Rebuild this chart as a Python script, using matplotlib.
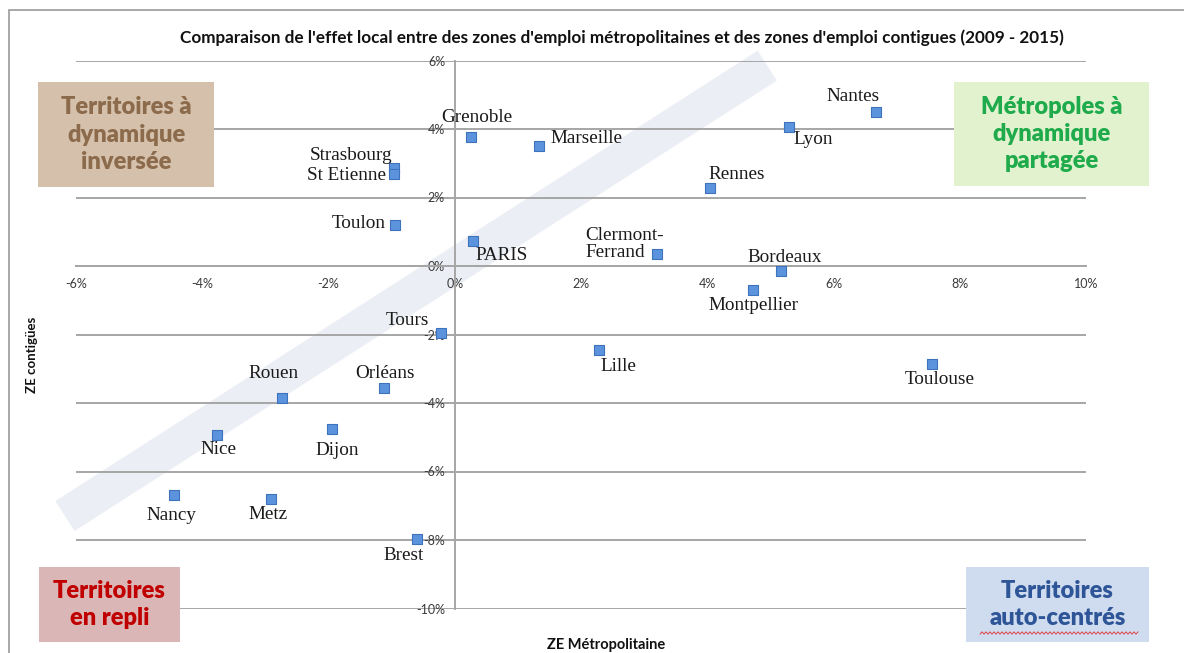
import numpy as np
import matplotlib.pyplot as plt
from matplotlib.patches import Rectangle
from matplotlib.ticker import FuncFormatter

# DATA (croissance de l'effet local, en %)
cities = ["Nantes", "Lyon", "Grenoble", "Marseille", "Strasbourg", "St Etienne",
          "Rennes", "Toulon", "PARIS", "Clermont-\nFerrand", "Bordeaux", "Montpellier",
          "Tours", "Lille", "Toulouse", "Orléans", "Rouen", "Dijon", "Nice",
          "Nancy", "Metz", "Brest"]
ze_metro = [6.68, 5.30, 0.26, 1.34, -0.96, -0.96, 4.05, -0.94, 0.29, 3.21, 5.17, 4.73,
            -0.21, 2.29, 7.56, -1.12, -2.73, -1.94, -3.76, -4.44, -2.91, -0.60]
ze_contig = [4.50, 4.06, 3.77, 3.50, 2.86, 2.69, 2.28, 1.20, 0.73, 0.34, -0.15, -0.70,
             -1.96, -2.45, -2.86, -3.56, -3.85, -4.76, -4.93, -6.69, -6.80, -7.97]

x_ticks = list(range(-6, 11, 2))
y_ticks = list(range(-10, 7, 2))

TITLE = ("Comparaison de l'effet local entre des zones d'emploi métropolitaines "
         "et des zones d'emploi contigues (2009 - 2015)")

# label placement (pixels offset, alignment)
label_pos = {
    "Nantes": (-23, 15, "center"), "Lyon": (24, -13, "center"),
    "Grenoble": (6, 19, "center"), "Marseille": (11, 8, "left"),
    "Strasbourg": (-2, 13, "right"), "St Etienne": (-8, -2, "right"),
    "Rennes": (26, 13, "center"), "Toulon": (-10, 1, "right"),
    "PARIS": (2, -15, "left"), "Clermont-\nFerrand": (-72, 10, "left"),
    "Bordeaux": (4, 14, "center"), "Montpellier": (0, -16, "center"),
    "Tours": (-12, 13, "right"), "Lille": (1, -17, "left"),
    "Toulouse": (8, -16, "center"), "Orléans": (1, 14, "center"),
    "Rouen": (-9, 24, "center"), "Dijon": (5, -21, "center"),
    "Nice": (1, -15, "center"), "Nancy": (-3, -20, "center"),
    "Metz": (-3, -16, "center"), "Brest": (-13, -17, "center"),
}

# quadrant boxes: text, (left, top, right, bottom) in pixels, bg, fg
quadrants = [
    ("Territoires à\ndynamique\ninversée", (38, 82, 214, 187), "#d5c0ab", "#8b6b4b"),
    ("Métropoles à\ndynamique\npartagée", (954, 82, 1149, 186), "#e2f2cf", "#1faa4b"),
    ("Territoires\nen repli", (39, 567, 180, 642), "#dbb6b6", "#c00000"),
    ("Territoires\nauto-centrés", (966, 567, 1149, 642), "#cfdcef", "#2e5597"),
]

W, H = 1184, 653
fig = plt.figure(figsize=(W / 100, H / 100), dpi=100)

def fx(px):
    return px / W

def fy(py):
    return 1 - py / H

ax = fig.add_axes([fx(76), fy(608.5), fx(1010), 548 / H])
ax.set_xlim(-6, 10)
ax.set_ylim(-10, 6)
ax.set_xticks(x_ticks)
ax.set_yticks(y_ticks)
pct = FuncFormatter(lambda v, p: f"{v:.0f}%")
ax.xaxis.set_major_formatter(pct)
ax.yaxis.set_major_formatter(pct)

grid_col = "#a6a6a6"
ax.set_axisbelow(True)
ax.yaxis.grid(True, color=grid_col, lw=1.4)
for s in ["top", "right"]:
    ax.spines[s].set_visible(False)
ax.spines["left"].set_position(("data", 0))
ax.spines["bottom"].set_position(("data", 0))
ax.spines["left"].set_color(grid_col)
ax.spines["bottom"].set_color(grid_col)
ax.spines["left"].set_linewidth(1.4)
ax.spines["bottom"].set_linewidth(1.4)
ax.tick_params(length=0, labelsize=9, labelcolor="#3a3a3a")
ax.tick_params(axis="y", pad=7)
ax.tick_params(axis="x", pad=9)
for lab in ax.get_xticklabels() + ax.get_yticklabels():
    lab.set_family("Lato")

# diagonal band
band_x = [-6.175, 4.95]
band_y = [-7.30, 5.85]
ax.plot(band_x, band_y, color="#eceef5", lw=25.6, solid_capstyle="butt",
        zorder=0.1, clip_on=False)

ax.scatter(ze_metro, ze_contig, marker="s", s=46, color="#5b93dc",
           edgecolors="#3f72bd", linewidths=0.8, zorder=3)

for name, x, y in zip(cities, ze_metro, ze_contig):
    dx, dy, ha = label_pos[name]
    ax.annotate(name, (x, y), xytext=(dx, dy), textcoords="offset pixels",
                ha=ha, va="center", multialignment="left",
                fontsize=13.8, family="Liberation Serif", color="#1a1a1a",
                linespacing=1.0, zorder=4)

# titles
fig.text(fx(622), fy(38), TITLE, ha="center", va="center", fontsize=12.3,
         weight="bold", family="Lato", color="#111111")
fig.text(fx(606), fy(645), "ZE Métropolitaine", ha="center", va="center",
         fontsize=10.5, weight="bold", family="Lato", color="#111111")
fig.text(fx(32), fy(355), "ZE contigües", ha="center", va="center", rotation=90,
         fontsize=9.5, weight="bold", family="Lato", color="#111111")

# outer frame
fig.patches.append(Rectangle((fx(8.5), -0.1), 1.2, fy(10.5) + 0.1, transform=fig.transFigure,
                             fill=False, edgecolor="#9a9a9a", lw=1.2))

for text, (l, t, r, b), bg, fg in quadrants:
    fig.patches.append(Rectangle((fx(l), fy(b)), fx(r - l), (b - t) / H,
                                 transform=fig.transFigure, facecolor=bg,
                                 edgecolor="none", zorder=5))
    fig.text(fx((l + r) / 2), fy((t + b) / 2), text, ha="center", va="center",
             fontsize=17, weight="heavy", family="Lato", color=fg,
             linespacing=1.3, zorder=6)

# spell-check squiggle under "auto-centrés"
sq_x = np.linspace(980, 1138, 80)
sq_y = 633 + 1.2 * np.where(np.arange(80) % 2 == 0, 1, -1)
fig.add_artist(plt.Line2D(fx(sq_x), fy(sq_y), color="#e03030", lw=0.6,
                          transform=fig.transFigure, zorder=7))

fig.savefig("out.png", dpi=100)
